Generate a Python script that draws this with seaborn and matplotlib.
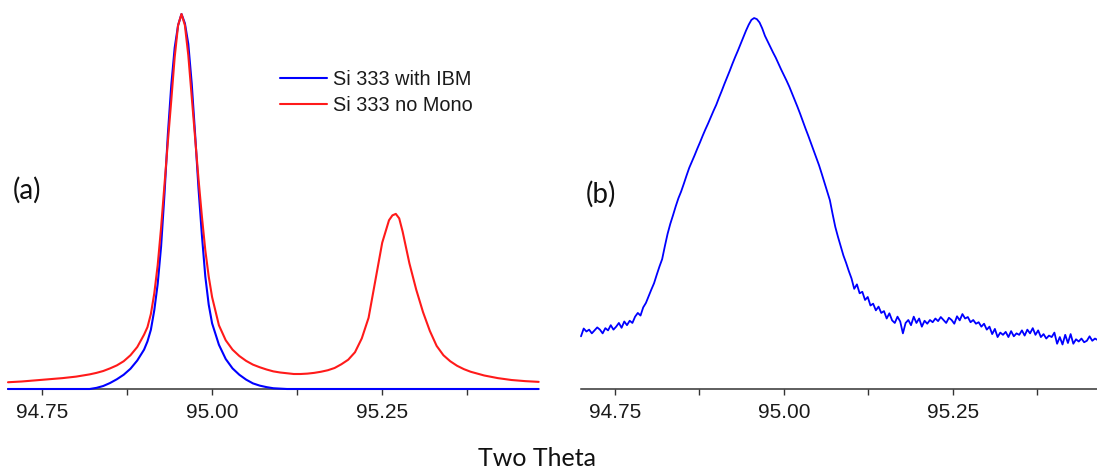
import numpy as np
import pandas as pd
import seaborn as sns
import matplotlib.pyplot as plt
from matplotlib.ticker import MultipleLocator, FuncFormatter

# ---- panel (a): Si 333 peak, with IBM vs no monochromator ----
two_theta_a = [94.70, 94.72, 94.74, 94.76, 94.78, 94.80, 94.82, 94.83, 94.84, 94.85,
               94.86, 94.87, 94.88, 94.89, 94.90, 94.905, 94.91, 94.915, 94.92, 94.925,
               94.93, 94.935, 94.94, 94.945, 94.95, 94.955, 94.96, 94.965, 94.97, 94.975,
               94.98, 94.985, 94.99, 94.995, 95.00, 95.01, 95.02, 95.03, 95.04, 95.05,
               95.06, 95.07, 95.08, 95.09, 95.10, 95.11, 95.12, 95.13, 95.14, 95.15,
               95.16, 95.17, 95.18, 95.19, 95.20, 95.21, 95.22, 95.23, 95.24, 95.25,
               95.26, 95.265, 95.27, 95.275, 95.28, 95.29, 95.30, 95.31, 95.32, 95.33,
               95.34, 95.35, 95.36, 95.37, 95.38, 95.40, 95.42, 95.44, 95.46, 95.48]

si333_ibm = [0, 0, 0, 0, 0, 0, 0, 0.003, 0.008, 0.016,
             0.026, 0.038, 0.054, 0.076, 0.105, 0.127, 0.158, 0.21, 0.28, 0.38,
             0.52, 0.68, 0.81, 0.91, 0.97, 1.0, 0.975, 0.92, 0.815, 0.68,
             0.535, 0.41, 0.30, 0.225, 0.175, 0.118, 0.08, 0.055, 0.038, 0.025,
             0.015, 0.009, 0.005, 0.002, 0.001, 0, 0, 0, 0, 0,
             0, 0, 0, 0, 0, 0, 0, 0, 0, 0,
             0, 0, 0, 0, 0, 0, 0, 0, 0, 0,
             0, 0, 0, 0, 0, 0, 0, 0, 0, 0]

si333_nomono = [0.018, 0.020, 0.023, 0.026, 0.029, 0.033, 0.039, 0.043, 0.048, 0.055,
                0.063, 0.074, 0.09, 0.112, 0.145, 0.165, 0.20, 0.255, 0.33, 0.43,
                0.545, 0.66, 0.77, 0.885, 0.97, 1.0, 0.97, 0.89, 0.78, 0.67,
                0.56, 0.46, 0.37, 0.30, 0.245, 0.17, 0.13, 0.105, 0.088, 0.075,
                0.065, 0.058, 0.052, 0.047, 0.044, 0.042, 0.040, 0.040, 0.041, 0.043,
                0.046, 0.050, 0.056, 0.066, 0.078, 0.098, 0.135, 0.19, 0.29, 0.39,
                0.45, 0.463, 0.467, 0.455, 0.42, 0.335, 0.265, 0.205, 0.155, 0.115,
                0.09, 0.074, 0.062, 0.053, 0.046, 0.036, 0.029, 0.024, 0.021, 0.019]

# ---- panel (b): noisy scan, step 0.004 deg from 94.700 ----
scan_b = [0.142, 0.163, 0.155, 0.160, 0.150, 0.158, 0.166, 0.160, 0.150, 0.164,
          0.158, 0.172, 0.160, 0.168, 0.178, 0.165, 0.182, 0.172, 0.184, 0.178,
          0.195, 0.205, 0.198, 0.220, 0.232, 0.250, 0.268, 0.285, 0.308, 0.330,
          0.350, 0.385, 0.418, 0.445, 0.468, 0.492, 0.514, 0.532, 0.553, 0.575,
          0.596, 0.613, 0.630, 0.648, 0.665, 0.683, 0.700, 0.716, 0.733, 0.750,
          0.766, 0.785, 0.803, 0.822, 0.840, 0.858, 0.877, 0.895, 0.912, 0.930,
          0.948, 0.966, 0.982, 0.995, 1.000, 0.997, 0.988, 0.972, 0.952, 0.937,
          0.922, 0.907, 0.893, 0.877, 0.861, 0.846, 0.831, 0.815, 0.797, 0.779,
          0.761, 0.742, 0.722, 0.702, 0.683, 0.663, 0.643, 0.623, 0.603, 0.580,
          0.556, 0.532, 0.509, 0.472, 0.437, 0.410, 0.385, 0.360, 0.340, 0.318,
          0.298, 0.270, 0.282, 0.258, 0.262, 0.240, 0.248, 0.225, 0.230, 0.212,
          0.222, 0.205, 0.210, 0.190, 0.204, 0.185, 0.178, 0.195, 0.182, 0.150,
          0.178, 0.186, 0.172, 0.195, 0.178, 0.190, 0.168, 0.184, 0.176, 0.186,
          0.180, 0.190, 0.183, 0.194, 0.186, 0.178, 0.192, 0.186, 0.176, 0.196,
          0.185, 0.202, 0.190, 0.194, 0.180, 0.186, 0.176, 0.180, 0.168, 0.176,
          0.160, 0.168, 0.148, 0.162, 0.140, 0.152, 0.146, 0.154, 0.140, 0.156,
          0.142, 0.150, 0.146, 0.158, 0.144, 0.160, 0.150, 0.164, 0.146, 0.158,
          0.140, 0.148, 0.136, 0.144, 0.140, 0.152, 0.122, 0.140, 0.120, 0.146,
          0.124, 0.148, 0.122, 0.134, 0.128, 0.136, 0.126, 0.130, 0.142, 0.130,
          0.136, 0.132]
two_theta_b = np.round(94.700 + 0.004 * np.arange(len(scan_b)), 3)

df_a = pd.DataFrame({'two_theta': two_theta_a, 'ibm': si333_ibm, 'nomono': si333_nomono})
df_b = pd.DataFrame({'two_theta': two_theta_b, 'counts': scan_b})

sns.set_style('ticks')
plt.rcParams['font.family'] = ['Liberation Sans', 'DejaVu Sans']

fig = plt.figure(figsize=(10.97, 4.68), dpi=100)
ax_a = fig.add_axes([8 / 1097, 79 / 468, 530 / 1097, 379 / 468])
ax_b = fig.add_axes([581 / 1097, 79 / 468, 516 / 1097, 379 / 468])

blue = '#0000ff'
red = '#ff1a1a'

sns.lineplot(data=df_a, x='two_theta', y='ibm', ax=ax_a, color=blue, lw=1.5,
             label='Si 333 with IBM', sort=False, estimator=None, clip_on=False, zorder=3)
sns.lineplot(data=df_a, x='two_theta', y='nomono', ax=ax_a, color=red, lw=1.5,
             label='Si 333 no Mono', sort=False, estimator=None, clip_on=False, zorder=4)
sns.lineplot(data=df_b, x='two_theta', y='counts', ax=ax_b, color=blue, lw=1.3,
             sort=False, estimator=None, clip_on=False)

ax_a.set_xlim(94.70, 95.479)
ax_a.set_ylim(0, 1.0107)
ax_b.set_xlim(94.70, 95.463)
ax_b.set_ylim(0, 1.0216)

fmt = FuncFormatter(lambda v, p: f'{v:.2f}' if abs(round(v / 0.25) * 0.25 - v) < 1e-6 else '')
for ax in (ax_a, ax_b):
    sns.despine(ax=ax, left=True)
    ax.set_yticks([])
    ax.set_xlabel('')
    ax.set_ylabel('')
    ax.xaxis.set_major_locator(MultipleLocator(0.125))
    ax.xaxis.set_major_formatter(fmt)
    ax.spines['bottom'].set_color('#333333')
    ax.spines['bottom'].set_linewidth(1.1)
    ax.tick_params(axis='x', length=4.5, width=1.0, color='#333333',
                   labelsize=15, labelcolor='#1a1a1a', pad=5.5)
    ax.patch.set_alpha(0)

leg = ax_a.legend(loc='upper left', bbox_to_anchor=(280 / 1097, 1 - 70 / 468),
                  bbox_transform=fig.transFigure, frameon=False, fontsize=14.3,
                  handlelength=2.35, handletextpad=0.3, labelspacing=0.36,
                  borderpad=0, borderaxespad=0)
for t in leg.get_texts():
    t.set_color('#1a1a1a')

panel_font = ['Lato', 'DejaVu Sans']
fig.text(27 / 1097, 1 - 190 / 468, '(a)', fontsize=20, family=panel_font,
         ha='center', va='center', color='#111111')
fig.text(601 / 1097, 1 - 194 / 468, '(b)', fontsize=20, family=panel_font,
         ha='center', va='center', color='#111111')
fig.text(537 / 1097, 1 - 458 / 468, 'Two Theta', fontsize=18, family=panel_font,
         ha='center', va='center', color='#111111')

fig.savefig('out.png', dpi=100)
